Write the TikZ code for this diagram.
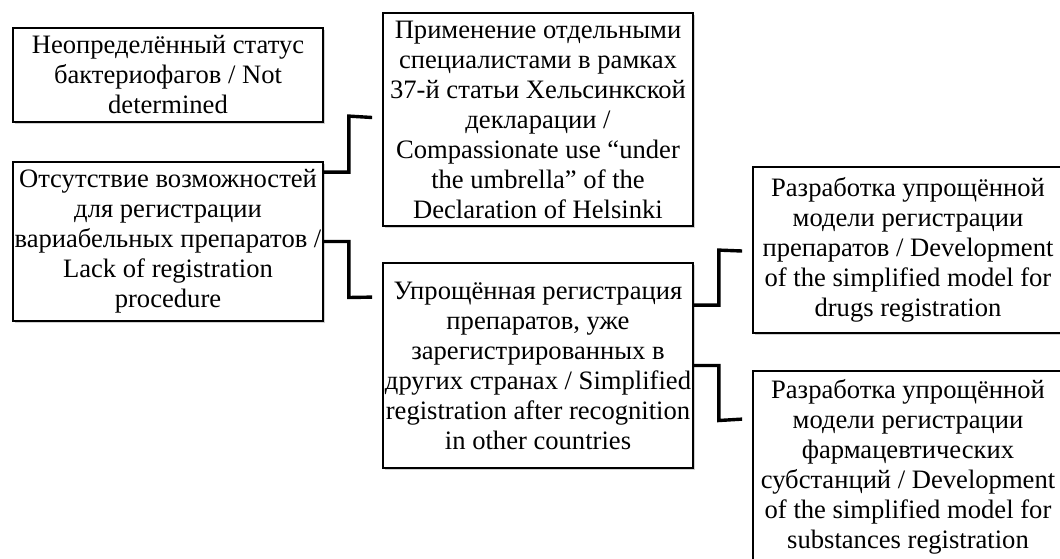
\documentclass[tikz,border=0pt]{standalone}
\usepackage{fontspec}
\setmainfont{Liberation Serif}
\usetikzlibrary{calc,shadows}

\begin{document}
\begin{tikzpicture}[x=0.5pt,y=-0.5pt,
  box/.style={draw=black,line width=0.9pt,fill=white,minimum width=155pt,inner xsep=0pt,
    align=center,font=\fontsize{13.3}{15}\selectfont,
    drop shadow={shadow xshift=1.2pt,shadow yshift=-1.2pt,opacity=0.3,fill=black!60}},
  link/.style={draw=black,line width=1.7pt}]
\path[use as bounding box,clip] (0,0) rectangle (1060,558);
% left column
\node[box,minimum height=47pt] (status) at (168,75)
  {Неопределённый статус\\бактериофагов / Not\\determined};
\node[box,minimum height=79.5pt] (lack) at (168,241.5)
  {Отсутствие возможностей\\для регистрации\\вариабельных препаратов /\\Lack of registration\\procedure};
% middle column
\node[box,minimum height=106.5pt] (compas) at (538,119.5)
  {Применение отдельными\\специалистами в рамках\\37-й статьи Хельсинкской\\декларации /\\Compassionate use “under\\the umbrella” of the\\Declaration of Helsinki};
\node[box,minimum height=102.5pt] (simpl) at (538,365.5)
  {Упрощённая регистрация\\препаратов, уже\\зарегистрированных в\\других странах / Simplified\\registration after recognition\\in other countries};
% right column
\node[box,minimum height=83pt] (drugs) at (908,250)
  {Разработка упрощённой\\модели регистрации\\препаратов / Development\\of the simplified model for\\drugs registration};
\node[box,minimum height=96pt] (subst) at (908,467)
  {Разработка упрощённой\\модели регистрации\\фармацевтических\\субстанций / Development\\of the simplified model for\\substances registration};
% connectors
\draw[link] ($(lack.north east)+(0,11)$) -| ++(25,-56) -- ($(compas.west)+(-10,-2)$);
\draw[link] (lack.east) -| ++(25,56) -- ($(simpl.north west)+(-10,35)$);
\draw[link] ($(simpl.north east)+(0,43)$) -| ++(25,-55) -- ($(drugs.west)+(-10,1)$);
\draw[link] (simpl.east) -| ++(25,55) -- ($(subst.north west)+(-10,49)$);
\end{tikzpicture}
\end{document}
